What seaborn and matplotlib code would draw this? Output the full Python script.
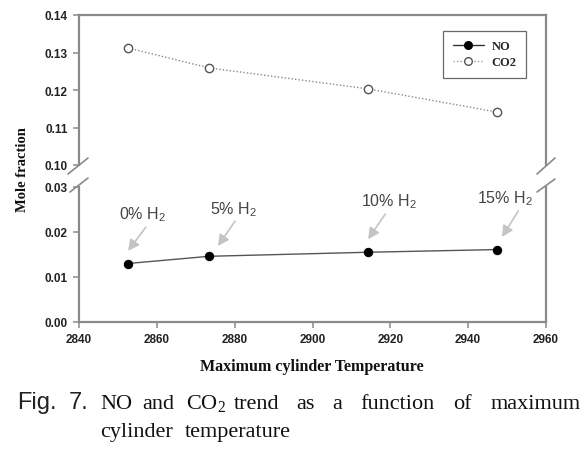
import matplotlib
matplotlib.use("Agg")
import matplotlib.pyplot as plt
import seaborn as sns
from matplotlib.lines import Line2D

# data
temps = [2852.6, 2873.4, 2914.3, 2947.5]
no_frac = [0.0130, 0.0146, 0.0155, 0.0161]
co2_frac = [0.1312, 0.1259, 0.1203, 0.1141]
h2_labels = ["0% H$_\\mathregular{2}$", "5% H$_\\mathregular{2}$",
             "10% H$_\\mathregular{2}$", "15% H$_\\mathregular{2}$"]
x_ticks = [2840, 2860, 2880, 2900, 2920, 2940, 2960]
top_ticks = [0.10, 0.11, 0.12, 0.13, 0.14]
bot_ticks = [0.00, 0.01, 0.02, 0.03]

sns.set_theme(style="ticks")
plt.rcParams['font.family'] = ['Liberation Sans', 'DejaVu Sans']

W, H = 586, 452
fig = plt.figure(figsize=(W / 100, H / 100), dpi=100)

def px_rect(x0, y0, x1, y1):
    # pixel box (top-left origin) -> figure fraction
    return [x0 / W, 1 - y1 / H, (x1 - x0) / W, (y1 - y0) / H]

ax_top = fig.add_axes(px_rect(79, 16, 546, 166))
ax_bot = fig.add_axes(px_rect(79, 188, 546, 323))

spine_col = '#8a8a8a'
for ax in (ax_top, ax_bot):
    for s in ax.spines.values():
        s.set_color(spine_col)
        s.set_linewidth(1.6)
    ax.tick_params(axis='both', direction='out', length=4, width=1.1,
                   color=spine_col, labelsize=8.5, labelcolor='#222222', pad=4)
    ax.set_xlim(2840, 2960)
    ax.set_facecolor('white')

ax_top.spines['bottom'].set_visible(False)
ax_bot.spines['top'].set_visible(False)
ax_top.tick_params(axis='x', bottom=False, labelbottom=False)

# CO2 (top)
sns.lineplot(x=temps, y=co2_frac, ax=ax_top, color='#8a8a8a', linestyle=(0, (1, 1.5)),
             linewidth=1.0, marker='o', markersize=6, markerfacecolor='white',
             markeredgecolor='#555555', markeredgewidth=1.0)
# NO (bottom)
sns.lineplot(x=temps, y=no_frac, ax=ax_bot, color='#555555', linewidth=1.0,
             marker='o', markersize=6, markerfacecolor='black', markeredgecolor='black')

ax_top.set_ylim(0.10, 0.14)
ax_top.set_yticks(top_ticks)
ax_top.set_yticklabels([f"{t:.2f}" for t in top_ticks], fontweight='bold')
ax_bot.set_ylim(0.0, 0.03)
ax_bot.set_yticks(bot_ticks)
ax_bot.set_yticklabels([f"{t:.2f}" for t in bot_ticks], fontweight='bold')
ax_bot.set_xticks(x_ticks)
ax_bot.set_xticklabels([str(t) for t in x_ticks], fontweight='bold')
for ax in (ax_top, ax_bot):
    ax.set_xlabel('')
    ax.set_ylabel('')

# legend
handles = [
    Line2D([], [], color='#333333', lw=1.0, marker='o', markersize=5.5,
           markerfacecolor='black', markeredgecolor='black'),
    Line2D([], [], color='#999999', lw=1.0, linestyle=(0, (1, 1.5)), marker='o',
           markersize=5.5, markerfacecolor='white', markeredgecolor='#555555'),
]
leg = ax_top.legend(handles, ['NO', 'CO2'], loc='upper right',
                    bbox_to_anchor=(0.957, 0.893), frameon=True, fancybox=False,
                    borderaxespad=0, handlelength=2.5, handletextpad=0.6,
                    borderpad=0.75, labelspacing=0.3,
                    prop={'family': 'Liberation Serif', 'weight': 'bold', 'size': 9})
leg.get_frame().set_edgecolor('#444444')
leg.get_frame().set_linewidth(0.9)

# H2 annotations: label offset, arrow tail offset, arrow head offset (data units)
label_off = [(3.8, 0.0110), (6.2, 0.0105), (5.4, 0.0114), (2.0, 0.0115)]
tail_off = [(4.6, 0.0081), (6.7, 0.0078), (4.4, 0.0085), (5.4, 0.0086)]
head_off = [(0.0, 0.0028), (2.3, 0.0023), (0.0, 0.0029), (1.2, 0.0028)]
for x, y, lab, lo, to, ho in zip(temps, no_frac, h2_labels, label_off, tail_off, head_off):
    ax_bot.annotate('', xy=(x + ho[0], y + ho[1]), xytext=(x + to[0], y + to[1]),
                    arrowprops=dict(arrowstyle='-|>,head_length=0.55,head_width=0.28',
                                    color='#c4c4c4', lw=1.2, mutation_scale=12,
                                    shrinkA=0, shrinkB=0))
    ax_bot.text(x + lo[0], y + lo[1], lab, ha='center', va='center', fontsize=11.5,
                color='#444444', family=['Liberation Sans', 'DejaVu Sans'])

# axis break marks
for (x0, y0, x1, y1) in [(68, 175, 88, 159), (70, 193, 88, 179),
                         (537, 175, 555, 159), (537, 193, 555, 180)]:
    fig.add_artist(Line2D([x0 / W, x1 / W], [1 - y0 / H, 1 - y1 / H],
                          transform=fig.transFigure, color=spine_col, lw=1.2))

serif = ['Liberation Serif', 'DejaVu Serif']
fig.text(22 / W, 1 - 170 / H, 'Mole fraction', rotation=90, ha='center', va='center',
         fontsize=10.5, fontweight='bold', family=serif, color='#111111')
fig.text(312 / W, 1 - 367 / H, 'Maximum cylinder Temperature', ha='center',
         va='center', fontsize=11.5, fontweight='bold', family=serif, color='#111111')

# caption, words placed as in the justified original
sans = ['Liberation Sans', 'DejaVu Sans']
fig.text(17 / W, 1 - 409 / H, 'Fig.', ha='left', va='baseline', fontsize=17,
         family=sans, color='#222222')
fig.text(69 / W, 1 - 409 / H, '7.', ha='left', va='baseline', fontsize=17,
         family=sans, color='#222222')
line1 = ['NO', 'and', 'CO$_\\mathregular{2}$', 'trend', 'as', 'a', 'function', 'of', 'maximum']
line1_x = [100, 142, 186, 234, 296, 332, 360, 453, 491]
line2 = ['cylinder', 'temperature']
line2_x = [100, 185]
for w, xp in zip(line1, line1_x):
    fig.text(xp / W, 1 - 409 / H, w, ha='left', va='baseline', fontsize=16,
             family=serif, color='#111111')
for w, xp in zip(line2, line2_x):
    fig.text(xp / W, 1 - 437 / H, w, ha='left', va='baseline', fontsize=16,
             family=serif, color='#111111')

fig.savefig('out.png', dpi=100, facecolor='white')
